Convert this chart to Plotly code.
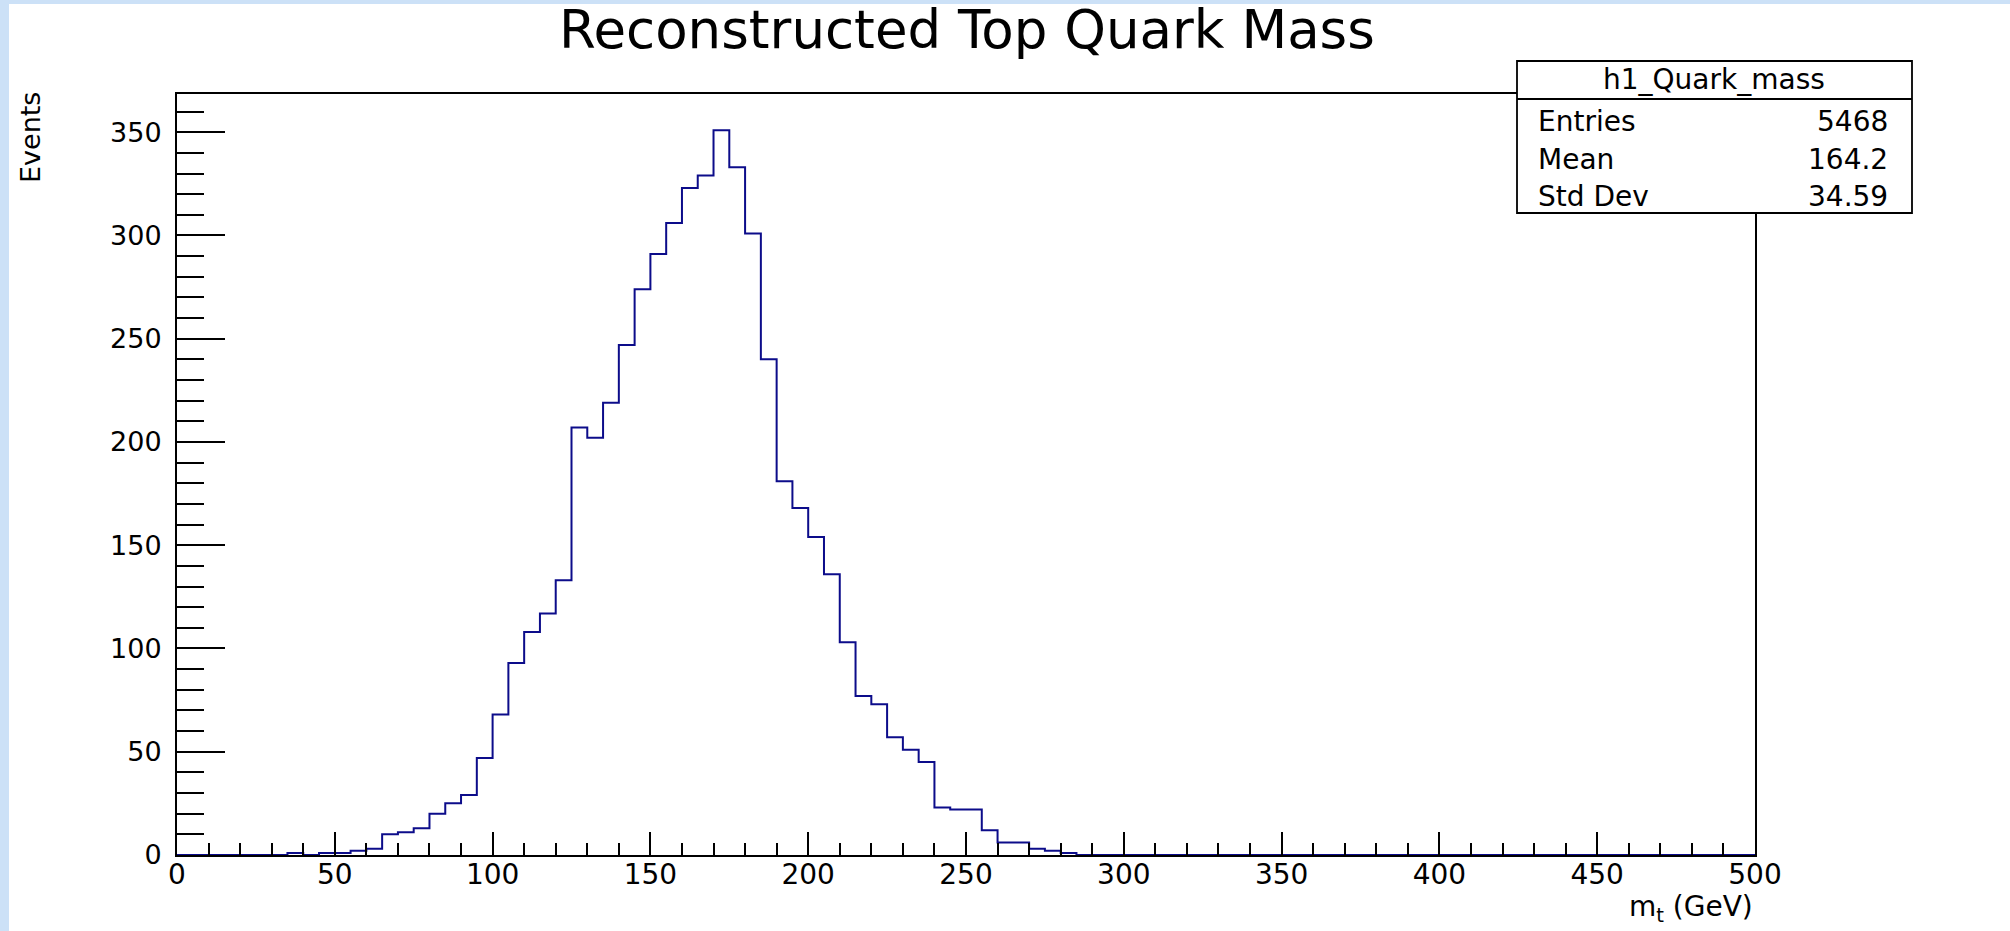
import plotly.graph_objects as go

# ---------------- data ----------------
x_min, x_max = 0, 500
bin_width = 5
counts = [
    0, 0, 0, 0, 0, 0, 0, 1, 0, 1,          # 0 - 50
    1, 2, 3, 10, 11, 13, 20, 25, 29, 47,    # 50 - 100
    68, 93, 108, 117, 133, 207, 202, 219, 247, 274,   # 100 - 150
    291, 306, 323, 329, 351, 333, 301, 240, 181, 168,  # 150 - 200
    154, 136, 103, 77, 73, 57, 51, 45, 23, 22,  # 200 - 250
    22, 12, 6, 6, 3, 2, 1, 0, 0, 0,         # 250 - 300
    0, 0, 0, 0, 0, 0, 0, 0, 0, 0,
    0, 0, 0, 0, 0, 0, 0, 0, 0, 0,
    0, 0, 0, 0, 0, 0, 0, 0, 0, 0,
    0, 0, 0, 0, 0, 0, 0, 0, 0, 0,
]
bin_edges = [x_min + i * bin_width for i in range(len(counts) + 1)]
y_max = 368.5

x_tick_vals = [0, 50, 100, 150, 200, 250, 300, 350, 400, 450, 500]
y_tick_vals = [0, 50, 100, 150, 200, 250, 300, 350]

title_text = "Reconstructed Top Quark Mass"
x_title = "m<sub>t</sub> (GeV)"
y_title = "Events"
stats_name = "h1_Quark_mass"
stats_labels = ["Entries", "Mean", "Std Dev"]
stats_values = ["5468", "164.2", "34.59"]

# ---------------- layout geometry (pixels) ----------------
W, H = 2010, 931
L, R, T, B = 177, 1755, 94, 855
FONT = "DejaVu Sans, Liberation Sans, Arial, sans-serif"
LINE_COL = "#0c0c8a"
BG_BLUE = "#cce1f7"


def px_x(p):
    return (p - L) / (R - L)


def px_y(p):
    return (B - p) / (B - T)


fig = go.Figure()
fig.add_trace(go.Scatter(
    x=bin_edges,
    y=counts + [counts[-1]],
    mode="lines",
    line=dict(color=LINE_COL, width=2, shape="hv"),
    hoverinfo="skip",
    showlegend=False,
))

shapes = [
    # white canvas leaving a light-blue strip at left and top
    dict(type="rect", xref="paper", yref="paper", layer="below",
         x0=px_x(9), x1=px_x(W + 5), y0=px_y(4), y1=px_y(H + 5),
         fillcolor="white", line=dict(width=0)),
    # stats box
    dict(type="rect", xref="paper", yref="paper", layer="above",
         x0=px_x(1517), x1=px_x(1912), y0=px_y(61), y1=px_y(213),
         fillcolor="white", line=dict(color="black", width=1.8)),
    dict(type="line", xref="paper", yref="paper", layer="above",
         x0=px_x(1517), x1=px_x(1912), y0=px_y(99), y1=px_y(99),
         line=dict(color="black", width=1.8)),
]

annotations = [
    dict(text=title_text, xref="paper", yref="paper",
         x=px_x(967), y=px_y(29), xanchor="center", yanchor="middle",
         showarrow=False, font=dict(family=FONT, size=53, color="black")),
    dict(text=y_title, xref="paper", yref="paper", textangle=-90,
         x=px_x(30), y=px_y(138), xanchor="center", yanchor="middle",
         showarrow=False, font=dict(family=FONT, size=27, color="black")),
    dict(text=x_title, xref="paper", yref="paper",
         x=px_x(1755), y=px_y(908), xanchor="right", yanchor="middle",
         showarrow=False, font=dict(family=FONT, size=28, color="black")),
    dict(text=stats_name, xref="paper", yref="paper",
         x=px_x(1714), y=px_y(80), xanchor="center", yanchor="middle",
         showarrow=False, font=dict(family=FONT, size=28, color="black")),
]
row_y = [121, 159, 197]
for lab, val, yy in zip(stats_labels, stats_values, row_y):
    annotations.append(dict(text=lab, xref="paper", yref="paper",
                            x=px_x(1536), y=px_y(yy), xanchor="left", yanchor="middle",
                            showarrow=False, font=dict(family=FONT, size=28, color="black")))
    annotations.append(dict(text=val, xref="paper", yref="paper",
                            x=px_x(1890), y=px_y(yy), xanchor="right", yanchor="middle",
                            showarrow=False, font=dict(family=FONT, size=28, color="black")))

fig.update_layout(
    width=W, height=H, autosize=False,
    margin=dict(l=L, r=W - R, t=T, b=H - B, pad=0),
    paper_bgcolor=BG_BLUE,
    plot_bgcolor="white",
    showlegend=False,
    shapes=shapes,
    annotations=annotations,
    font=dict(family=FONT, color="black"),
)

fig.update_xaxes(
    range=[x_min, x_max], showgrid=False, zeroline=False,
    showline=True, linecolor="black", linewidth=2, mirror=True,
    tickmode="array", tickvals=x_tick_vals,
    ticks="inside", ticklen=23, tickwidth=2, tickcolor="black",
    minor=dict(dtick=10, tick0=0, ticks="inside", ticklen=12, tickwidth=2, tickcolor="black"),
    tickfont=dict(family=FONT, size=28, color="black"),
    ticklabelstandoff=-7,
)
fig.update_yaxes(
    range=[0, y_max], showgrid=False, zeroline=False,
    showline=True, linecolor="black", linewidth=2, mirror=True,
    tickmode="array", tickvals=y_tick_vals,
    ticks="inside", ticklen=48, tickwidth=2, tickcolor="black",
    minor=dict(dtick=10, tick0=0, ticks="inside", ticklen=27, tickwidth=2, tickcolor="black"),
    tickfont=dict(family=FONT, size=27, color="black"),
    ticklabelstandoff=8,
)

fig.write_html("out.html")
